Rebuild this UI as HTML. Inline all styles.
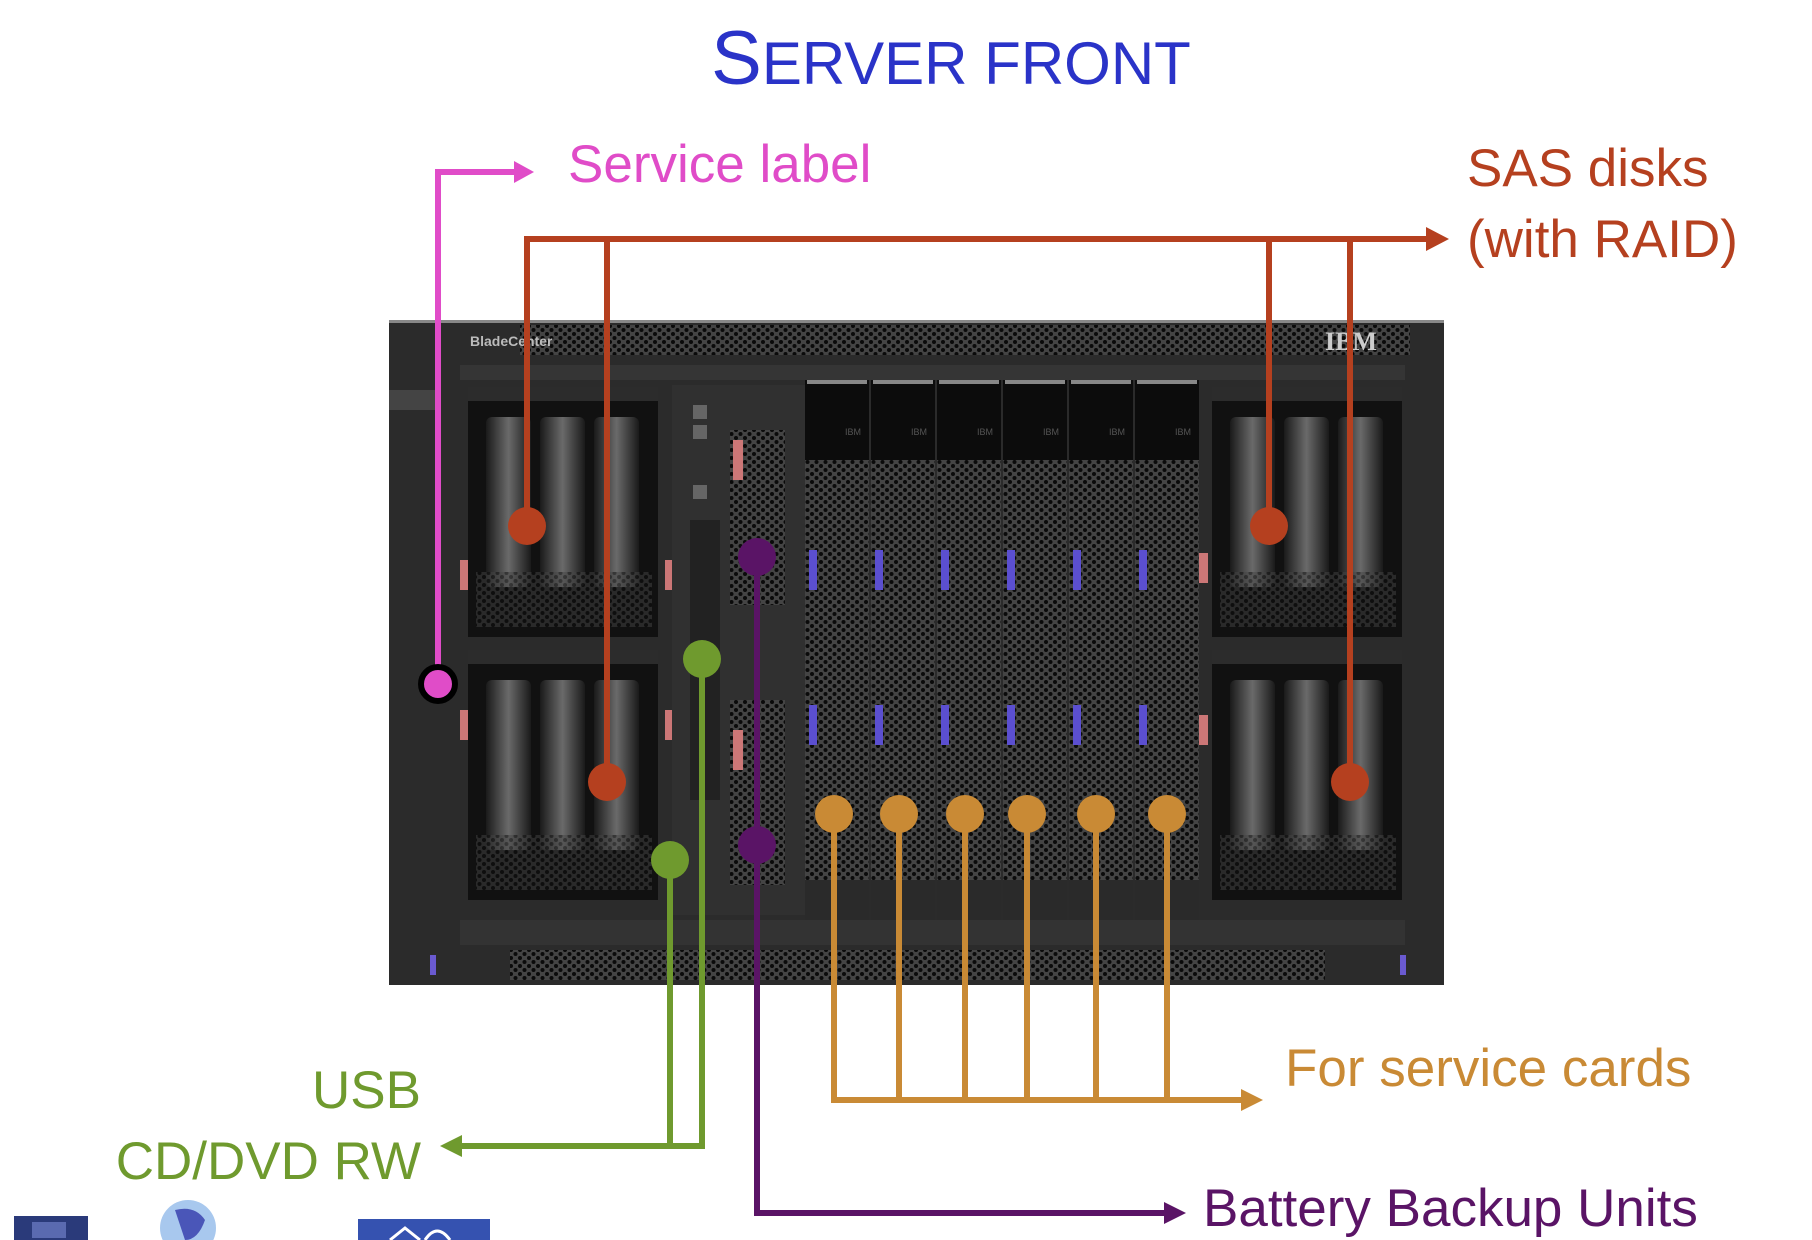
<!DOCTYPE html>
<html><head><meta charset="utf-8"><style>
html,body{margin:0;padding:0;background:#fff;}
body{width:1812px;height:1240px;overflow:hidden;position:relative;}
svg{position:absolute;left:0;top:0;}
</style></head><body>
<svg width="1812" height="1240" viewBox="0 0 1812 1240" xmlns="http://www.w3.org/2000/svg">
<defs>
<pattern id="hex" width="9" height="8" patternUnits="userSpaceOnUse">
<rect width="9" height="8" fill="#444"/>
<circle cx="2.5" cy="2" r="2" fill="#0a0a0a"/><circle cx="7" cy="6" r="2" fill="#0a0a0a"/>
</pattern>
<linearGradient id="fan" x1="0" x2="1" y1="0" y2="0">
<stop offset="0" stop-color="#1a1a1a"/><stop offset="0.5" stop-color="#6a6a6a"/><stop offset="1" stop-color="#1a1a1a"/>
</linearGradient>
<g id="fanunit">
<rect x="0" y="0" width="190" height="250" fill="#111"/>
<rect x="0" y="0" width="190" height="14" fill="#2c2c2c"/>
<rect x="18" y="30" width="45" height="170" rx="6" fill="url(#fan)"/>
<rect x="72" y="30" width="45" height="170" rx="6" fill="url(#fan)"/>
<rect x="126" y="30" width="45" height="170" rx="6" fill="url(#fan)"/>
<rect x="8" y="185" width="176" height="55" fill="url(#hex)" opacity="0.5"/>
</g>
<g id="blade">
<rect x="0" y="0" width="64" height="540" fill="url(#hex)"/>
<rect x="0" y="0" width="64" height="80" fill="#0c0c0c"/>
<rect x="2" y="0" width="60" height="4" fill="#888"/>
<text x="40" y="55" font-family="Liberation Sans, sans-serif" font-size="9" fill="#555">IBM</text>
<rect x="4" y="170" width="8" height="40" fill="#5b4fd0"/>
<rect x="4" y="325" width="8" height="40" fill="#5b4fd0"/>
<rect x="0" y="500" width="64" height="40" fill="#2a2a2a"/>
</g>
</defs>

<!-- Title -->
<text x="951" y="84" text-anchor="middle" font-family="Liberation Sans, sans-serif" fill="#2a33c8"><tspan font-size="76">S</tspan><tspan font-size="60">ERVER FRONT</tspan></text>

<!-- Server body -->
<rect x="389" y="320" width="1055" height="665" fill="#2b2b2b"/>
<rect x="389" y="320" width="1055" height="3" fill="#888"/>
<rect x="520" y="325" width="890" height="30" fill="url(#hex)"/>
<text x="470" y="346" font-family="Liberation Sans, sans-serif" font-size="14" font-weight="bold" fill="#bbb">BladeCenter</text>
<text x="1325" y="350" font-family="Liberation Serif, serif" font-size="26" font-weight="bold" fill="#ccc">IBM</text>
<rect x="460" y="365" width="945" height="15" fill="#353535"/>
<rect x="389" y="390" width="50" height="20" fill="#444"/>
<rect x="510" y="950" width="815" height="30" fill="url(#hex)"/>
<rect x="460" y="920" width="945" height="25" fill="#333"/>
<rect x="430" y="955" width="6" height="20" fill="#6a5ad0"/>
<rect x="1400" y="955" width="6" height="20" fill="#6a5ad0"/>

<!-- Left fans -->
<use href="#fanunit" x="468" y="387"/>
<use href="#fanunit" x="468" y="650"/>
<!-- Right fans -->
<use href="#fanunit" x="1212" y="387"/>
<use href="#fanunit" x="1212" y="650"/>
<rect x="460" y="560" width="8" height="30" fill="#c77"/><rect x="665" y="560" width="8" height="30" fill="#c77"/>
<rect x="460" y="710" width="8" height="30" fill="#c77"/><rect x="665" y="710" width="8" height="30" fill="#c77"/>
<rect x="1198" y="553" width="10" height="30" fill="#c77"/><rect x="1198" y="715" width="10" height="30" fill="#c77"/>

<!-- Middle column -->
<rect x="672" y="385" width="135" height="530" fill="#303030"/>
<rect x="690" y="520" width="30" height="280" fill="#222"/>
<rect x="730" y="430" width="55" height="175" fill="url(#hex)"/>
<rect x="730" y="700" width="55" height="185" fill="url(#hex)"/>
<rect x="733" y="440" width="10" height="40" fill="#c77"/>
<rect x="733" y="730" width="10" height="40" fill="#c77"/>
<rect x="693" y="405" width="14" height="14" fill="#666"/><rect x="693" y="425" width="14" height="14" fill="#666"/><rect x="693" y="485" width="14" height="14" fill="#666"/>

<!-- Blades -->
<use href="#blade" x="805" y="380"/>
<use href="#blade" x="871" y="380"/>
<use href="#blade" x="937" y="380"/>
<use href="#blade" x="1003" y="380"/>
<use href="#blade" x="1069" y="380"/>
<use href="#blade" x="1135" y="380"/>

<!-- Pink service label -->
<g stroke="#e04cc8" stroke-width="6" fill="none">
<polyline points="438,683 438,172 518,172"/>
</g>
<polygon points="534,172 514,161 514,183" fill="#e04cc8"/>
<circle cx="438" cy="684" r="17" fill="#e04cc8" stroke="#000" stroke-width="6"/>
<text x="568" y="182" font-family="Liberation Sans, sans-serif" font-size="53" fill="#e04cc8">Service label</text>

<!-- Orange SAS -->
<g stroke="#b5401f" stroke-width="6" fill="none">
<polyline points="527,526 527,239 1430,239"/>
<line x1="607" y1="239" x2="607" y2="782"/>
<line x1="1269" y1="239" x2="1269" y2="526"/>
<line x1="1350" y1="239" x2="1350" y2="782"/>
</g>
<polygon points="1449,239 1426,227 1426,251" fill="#b5401f"/>
<g fill="#b5401f">
<circle cx="527" cy="526" r="19"/><circle cx="607" cy="782" r="19"/>
<circle cx="1269" cy="526" r="19"/><circle cx="1350" cy="782" r="19"/>
</g>
<text x="1467" y="186" font-family="Liberation Sans, sans-serif" font-size="53" fill="#b5401f">SAS disks</text>
<text x="1467" y="257" font-family="Liberation Sans, sans-serif" font-size="53" fill="#b5401f">(with RAID)</text>

<!-- Green USB / DVD -->
<g stroke="#6f9a2e" stroke-width="6" fill="none">
<polyline points="702,659 702,1146 455,1146"/>
<polyline points="670,860 670,1146"/>
</g>
<polygon points="440,1146 462,1135 462,1157" fill="#6f9a2e"/>
<circle cx="702" cy="659" r="19" fill="#6f9a2e"/>
<circle cx="670" cy="860" r="19" fill="#6f9a2e"/>
<text x="421" y="1108" text-anchor="end" font-family="Liberation Sans, sans-serif" font-size="53" fill="#6f9a2e">USB</text>
<text x="421" y="1179" text-anchor="end" font-family="Liberation Sans, sans-serif" font-size="53" fill="#6f9a2e">CD/DVD RW</text>

<!-- Purple BBU -->
<g stroke="#5a1466" stroke-width="6" fill="none">
<polyline points="757,557 757,1213 1168,1213"/>
</g>
<polygon points="1186,1213 1164,1202 1164,1224" fill="#5a1466"/>
<circle cx="757" cy="557" r="19" fill="#5a1466"/>
<circle cx="757" cy="845" r="19" fill="#5a1466"/>
<text x="1203" y="1226" font-family="Liberation Sans, sans-serif" font-size="53" fill="#5a1466">Battery Backup Units</text>

<!-- Service cards -->
<g stroke="#c98a35" stroke-width="6" fill="none">
<polyline points="834,814 834,1100 1244,1100"/>
<line x1="899" y1="814" x2="899" y2="1100"/>
<line x1="965" y1="814" x2="965" y2="1100"/>
<line x1="1027" y1="814" x2="1027" y2="1100"/>
<line x1="1096" y1="814" x2="1096" y2="1100"/>
<line x1="1167" y1="814" x2="1167" y2="1100"/>
</g>
<polygon points="1263,1100 1241,1089 1241,1111" fill="#c98a35"/>
<g fill="#c98a35">
<circle cx="834" cy="814" r="19"/><circle cx="899" cy="814" r="19"/><circle cx="965" cy="814" r="19"/>
<circle cx="1027" cy="814" r="19"/><circle cx="1096" cy="814" r="19"/><circle cx="1167" cy="814" r="19"/>
</g>
<text x="1285" y="1086" font-family="Liberation Sans, sans-serif" font-size="53" fill="#c98a35">For service cards</text>

<!-- bottom icons -->
<rect x="14" y="1216" width="74" height="30" fill="#2a3a7a"/>
<rect x="32" y="1222" width="34" height="16" fill="#5a6ab0"/>
<circle cx="188" cy="1228" r="28" fill="#a8c8ee"/>
<path d="M175,1210 Q195,1205 205,1220 Q198,1240 185,1240 Z" fill="#4a56b8"/>
<rect x="358" y="1219" width="132" height="25" fill="#3552b0"/>
<path d="M390,1240 L405,1228 L420,1240 M425,1240 Q437,1222 450,1240" stroke="#fff" stroke-width="3" fill="none"/>
</svg>
</body></html>
